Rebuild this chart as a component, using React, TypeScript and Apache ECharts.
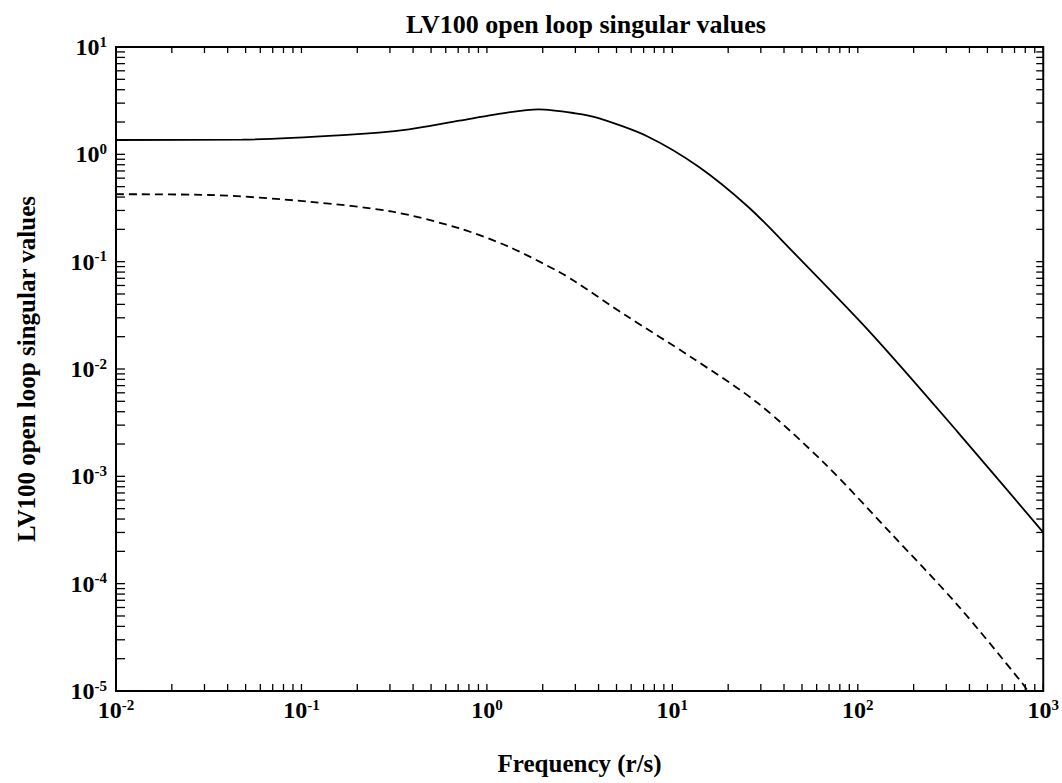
import React, { useEffect, useRef } from "react";
import * as echarts from "echarts";

// Frequency (r/s) and singular values
const solidFreq = [0.01, 0.048, 0.167, 0.38, 0.71, 1.31, 1.9, 3.0, 4.0, 7.4, 13.8, 25.6, 43.8, 118, 345, 1000];
const solidVal = [1.36, 1.37, 1.51, 1.71, 2.06, 2.46, 2.62, 2.41, 2.17, 1.46, 0.77, 0.325, 0.128, 0.0215, 0.0026, 0.0003];

const dashFreq = [0.01, 0.032, 0.11, 0.31, 0.706, 1.31, 2.44, 3.0, 5.57, 12.7, 29, 66.2, 151, 345, 771, 880];
const dashVal = [0.425, 0.418, 0.362, 0.292, 0.205, 0.138, 0.0807, 0.065, 0.0318, 0.0128, 0.00479, 0.00132, 0.000294, 0.0000632, 0.0000118, 0.0000085];

const xDecades = [-2, -1, 0, 1, 2, 3];
const yDecades = [-5, -4, -3, -2, -1, 0, 1];

const TITLE = "LV100 open loop singular values";
const X_NAME = "Frequency (r/s)";
const Y_NAME = "LV100 open loop singular values";

const FONT = "'Liberation Serif', 'Times New Roman', serif";

function tickValues(decades: number[]): number[] {
  const out: number[] = [];
  for (let i = 0; i < decades.length; i++) {
    const e = decades[i];
    out.push(Math.pow(10, e));
    if (i < decades.length - 1) {
      for (let m = 2; m <= 9; m++) out.push(m * Math.pow(10, e));
    }
  }
  return out;
}

const labelFmt = (value: number) => {
  const e = Math.round(Math.log10(value));
  return `{b|10}{s|${e}}`;
};

const rich = {
  b: { fontSize: 24, fontFamily: FONT, fontWeight: "bold", color: "#000", lineHeight: 28 },
  s: { fontSize: 15, fontFamily: FONT, fontWeight: "bold", color: "#000", lineHeight: 28, padding: [0, 0, 11, 0] },
};

export default function App() {
  const ref = useRef<HTMLDivElement>(null);
  useEffect(() => {
    if (!ref.current) return;
    const chart = echarts.init(ref.current, null, { renderer: "svg" });
    const xTicks = tickValues(xDecades);
    const yTicks = tickValues(yDecades);
    const tickStyle = { stroke: "#000", lineWidth: 1.3 };
    chart.setOption({
      animation: false,
      backgroundColor: "#fff",
      title: {
        text: TITLE,
        left: 581,
        textAlign: "center",
        top: 6,
        textStyle: { fontFamily: FONT, fontSize: 26, fontWeight: "bold", color: "#000" },
      },
      grid: {
        left: 116,
        top: 47,
        right: 16,
        bottom: 92,
        show: true,
        borderColor: "#000",
        borderWidth: 2,
        backgroundColor: "transparent",
      },
      xAxis: {
        type: "log",
        logBase: 10,
        min: 0.01,
        max: 1000,
        interval: 1,
        name: X_NAME,
        nameLocation: "middle",
        nameGap: 60,
        nameTextStyle: { fontFamily: FONT, fontSize: 25, color: "#000", fontWeight: "bold" },
        axisLine: { show: false },
        axisTick: { show: false },
        splitLine: { show: false },
        minorTick: { show: false },
        axisLabel: { formatter: labelFmt, rich, margin: 5, showMinLabel: true, showMaxLabel: true },
      },
      yAxis: {
        type: "log",
        logBase: 10,
        min: 0.00001,
        max: 10,
        interval: 1,
        name: Y_NAME,
        nameLocation: "middle",
        nameGap: 77,
        nameTextStyle: { fontFamily: FONT, fontSize: 25, color: "#000", fontWeight: "bold" },
        axisLine: { show: false },
        axisTick: { show: false },
        splitLine: { show: false },
        minorTick: { show: false },
        axisLabel: { formatter: labelFmt, rich, margin: 9, showMinLabel: true, showMaxLabel: true },
      },
      series: [
        {
          type: "line",
          data: solidFreq.map((f, i) => [f, solidVal[i]]),
          showSymbol: false,
          smooth: 0.3,
          lineStyle: { color: "#000", width: 1.8, type: "solid" },
          clip: true,
        },
        {
          type: "line",
          data: dashFreq.map((f, i) => [f, dashVal[i]]),
          showSymbol: false,
          smooth: 0.3,
          lineStyle: { color: "#000", width: 1.8, type: [8, 5] },
          clip: true,
        },
        {
          type: "custom",
          silent: true,
          z: 5,
          data: xTicks.map((v) => [v, 1]),
          renderItem: (params: any, api: any) => {
            const cs = params.coordSys;
            const px = api.coord([api.value(0), 1])[0];
            const bottom = cs.y + cs.height;
            return {
              type: "group",
              children: [
                { type: "line", shape: { x1: px, y1: bottom, x2: px, y2: bottom - 7 }, style: tickStyle },
                { type: "line", shape: { x1: px, y1: cs.y, x2: px, y2: cs.y + 6 }, style: tickStyle },
              ],
            };
          },
        },
        {
          type: "custom",
          silent: true,
          z: 5,
          data: yTicks.map((v) => [1, v]),
          renderItem: (params: any, api: any) => {
            const cs = params.coordSys;
            const py = api.coord([1, api.value(1)])[1];
            const right = cs.x + cs.width;
            return {
              type: "group",
              children: [
                { type: "line", shape: { x1: cs.x, y1: py, x2: cs.x + 9, y2: py }, style: tickStyle },
                { type: "line", shape: { x1: right, y1: py, x2: right - 7, y2: py }, style: tickStyle },
              ],
            };
          },
        },
      ],
    });
    return () => chart.dispose();
  }, []);
  return <div ref={ref} style={{ width: 1062, height: 783, position: "absolute", left: 0, top: 0 }} />;
}
